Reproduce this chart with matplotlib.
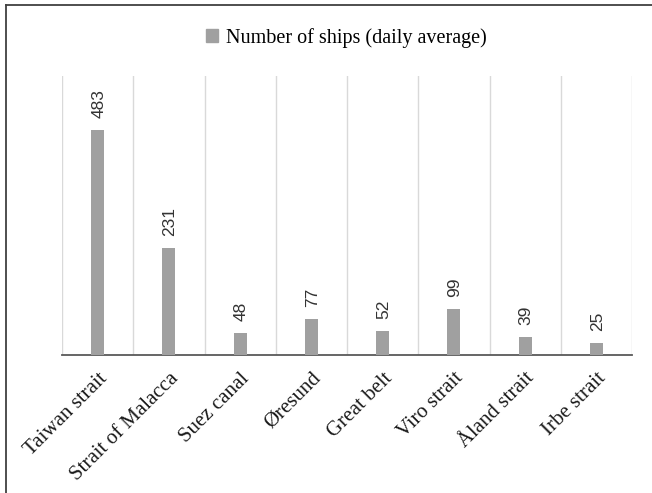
import numpy as np
import matplotlib.pyplot as plt
import matplotlib.transforms as mtransforms
from matplotlib.lines import Line2D
from matplotlib.patches import Patch

straits = ['Taiwan strait', 'Strait of Malacca', 'Suez canal', 'Øresund',
           'Great belt', 'Viro strait', 'Åland strait', 'Irbe strait']
ships = [483, 231, 48, 77, 52, 99, 39, 25]
series_name = 'Number of ships (daily average)'

bar_color = '#a0a0a0'
serif = ['Liberation Serif', 'DejaVu Serif']

fig = plt.figure(figsize=(6.52, 4.93), dpi=100)
ax = fig.add_axes([62/652, 1-355/493, 570/652, 279/493])

x = np.arange(len(straits))
bars = ax.bar(x, ships, width=0.18, color=bar_color, zorder=3)

for xi, v in zip(x, ships):
    ax.annotate(str(v), (xi, v), xytext=(1, 12), textcoords='offset pixels',
                ha='center', va='bottom', rotation=90,
                family=['Liberation Sans', 'DejaVu Sans'], fontsize=12.5, color='#333333')

ax.set_xlim(-0.5, len(straits) - 0.5)
ax.set_ylim(0, 600)
ax.set_yticks([])
ax.set_xticks(x)
ax.set_xticklabels(straits, rotation=45, ha='right', va='top', rotation_mode='anchor',
                   family=serif, fontsize=15, color='#1a1a1a')
shift = mtransforms.ScaledTranslation(-3/100, 0, fig.dpi_scale_trans)
for lab in ax.get_xticklabels():
    lab.set_transform(lab.get_transform() + shift)
ax.set_xticks(np.arange(-0.5, len(straits)), minor=True)
ax.tick_params(axis='x', which='both', length=0, pad=10)
ax.grid(True, axis='x', which='minor', color='#d9d9d9', lw=1, zorder=0)
ax.grid(False, axis='x', which='major')

for s in ['top', 'left', 'right']:
    ax.spines[s].set_visible(False)
ax.spines['bottom'].set_color('#595959')
ax.spines['bottom'].set_linewidth(1.3)

fig.legend(handles=[Patch(color=bar_color, label=series_name)],
           loc='center', bbox_to_anchor=(346/652, 1-38/493), frameon=False,
           prop={'family': serif, 'size': 14.5}, handlelength=0.6, handleheight=0.6,
           handletextpad=0.4)

# outer frame: only the left and top edges are visible
fx, fy = 6/652, 1 - 5/493
fig.add_artist(Line2D([fx, fx], [0, fy], transform=fig.transFigure, color='#404040', lw=1.3))
fig.add_artist(Line2D([fx, 1], [fy, fy], transform=fig.transFigure, color='#404040', lw=1.3))

fig.savefig('out.png', dpi=100)
